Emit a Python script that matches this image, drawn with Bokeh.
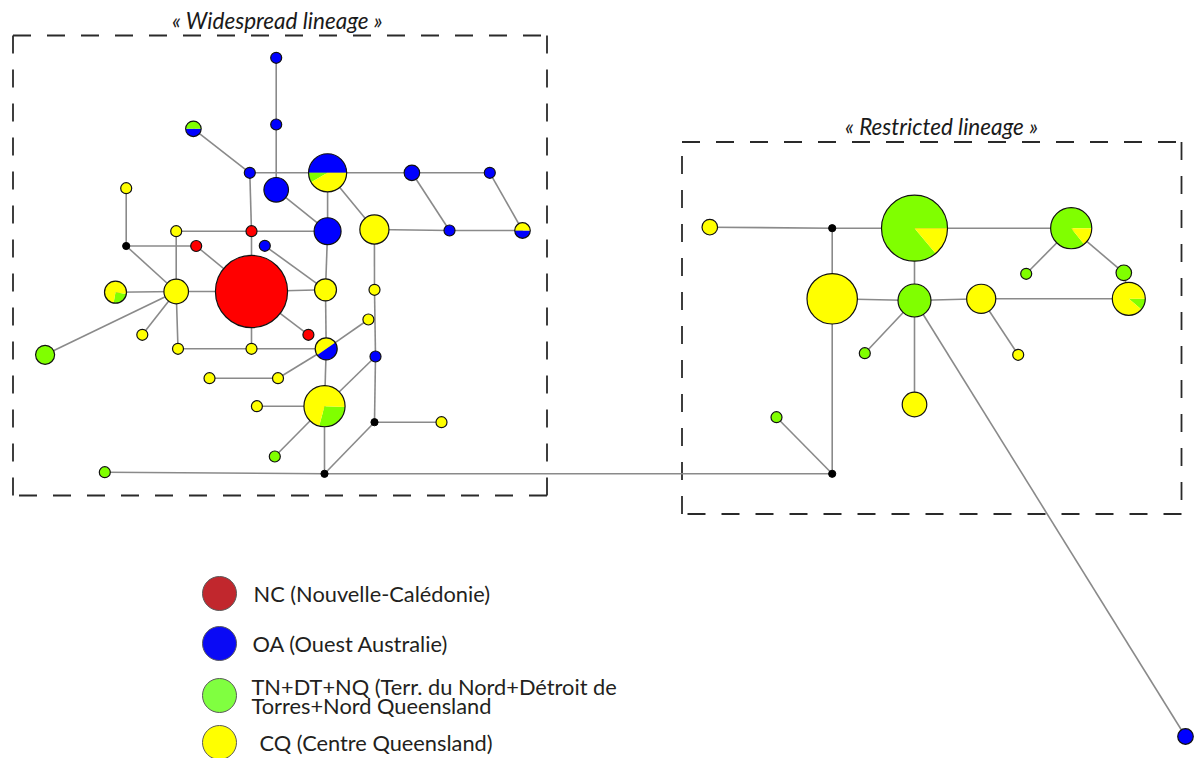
import numpy as np
from bokeh.plotting import figure
from bokeh.models import Range1d
from bokeh.core.properties import value
from bokeh.embed import file_html
from bokeh.resources import INLINE

W, H = 1195, 758

# ---------------------------------------------------------------- data
# Sampling regions (pie segments are drawn in this order)
region_codes = ["OA", "TN", "CQ", "NC"]
region_fill = {"NC": "#ff0000", "OA": "#0000ff", "TN": "#80ff00", "CQ": "#ffff00"}

# Haplotypes: layout position (x to the right, y downwards) and number of
# sequences per region.  Nodes with no sequence are median vectors.
hap_id = ["A", "B", "C", "D", "E", "F", "G", "H", "I", "J", "K", "L", "M",
          "N", "O", "P", "Q", "R", "S", "T", "U", "V", "W", "X", "Y", "Z",
          "AA", "AB", "AC", "AD", "AE", "AF", "AG", "AH", "AI", "AJ", "AK",
          "AL", "AM", "AN",
          "RA", "RB", "RC", "RD", "RE", "RF", "RG", "RH", "RI", "RJ", "RK",
          "RL", "RM", "RN", "RO", "RP"]
hap_x = [275.7, 275.7, 192.9, 249.3, 275.7, 327.1, 411.4, 489.3, 125.7, 175.7,
         251.0, 327.1, 373.9, 449.0, 522.0, 125.7, 195.7, 264.3, 251.0, 175.7,
         115.0, 325.0, 374.0, 367.9, 307.9, 141.8, 44.6, 177.5, 251.0, 325.7,
         375.0, 209.0, 277.5, 324.0, 256.4, 374.0, 441.0, 274.3, 104.3, 324.0,
         709.3, 831.7, 914.0, 1070.7, 1025.7, 1123.3, 831.7, 914.0, 980.7,
         1128.3, 864.3, 1017.7, 914.0, 776.0, 831.7, 1185.0]
hap_y = [57.3, 124.0, 128.3, 172.3, 189.3, 172.3, 172.3, 172.3, 187.7, 230.7,
         230.7, 230.7, 229.0, 230.0, 230.0, 245.5, 245.5, 245.3, 291.0, 291.0,
         291.7, 289.3, 289.3, 319.0, 334.3, 334.3, 354.3, 348.3, 348.3, 348.3,
         356.0, 377.7, 377.7, 405.7, 405.7, 421.7, 421.7, 456.0, 471.7, 473.3,
         226.7, 227.7, 227.7, 227.7, 273.3, 272.3, 298.3, 300.0, 298.3, 298.3,
         352.7, 354.3, 404.0, 416.7, 473.3, 736.0]
n_NC = [0, 0, 0, 0, 0, 0, 0, 0, 0, 0, 1, 0, 0, 0, 0, 0, 1, 0, 43, 0,
        0, 0, 0, 0, 1, 0, 0, 0, 0, 0, 0, 0, 0, 0, 0, 0, 0, 0, 0, 0,
        0, 0, 0, 0, 0, 0, 0, 0, 0, 0, 0, 0, 0, 0, 0, 0]
n_OA = [1, 1, 1, 1, 5, 6, 2, 1, 0, 0, 0, 6, 0, 1, 1, 0, 0, 1, 0, 0,
        0, 0, 0, 0, 0, 0, 0, 0, 0, 2, 1, 0, 0, 0, 0, 0, 0, 0, 0, 0,
        0, 0, 0, 0, 0, 0, 0, 0, 0, 0, 0, 0, 0, 0, 0, 2]
n_TN = [0, 0, 1, 0, 0, 1, 0, 0, 0, 0, 0, 0, 0, 0, 0, 0, 0, 0, 0, 0,
        1, 0, 0, 0, 0, 0, 3, 0, 0, 0, 0, 0, 0, 4, 0, 0, 0, 1, 1, 0,
        0, 0, 31, 12, 1, 2, 0, 9, 0, 1, 1, 0, 0, 1, 0, 0]
n_CQ = [0, 0, 0, 0, 0, 5, 0, 0, 1, 1, 0, 0, 7, 0, 1, 0, 0, 0, 0, 5,
        3, 4, 1, 1, 0, 1, 0, 1, 1, 2, 0, 1, 1, 10, 1, 0, 1, 0, 0, 0,
        2, 0, 5, 2, 0, 0, 21, 0, 7, 8, 0, 1, 5, 0, 0, 0]
# angle (degrees, anticlockwise from 3 o'clock) where each pie starts
pie_start = [0, 0, 180, 0, 0, 0, 0, 0, 0, 0, 0, 0, 0, 0, 180, 0, 0, 0, 0, 0,
             260, 0, 0, 0, 0, 0, 0, 0, 0, 215, 0, 0, 0, 255, 0, 0, 0, 0, 0, 0,
             0, 0, 0, 0, 0, 0, 0, 0, 0, 320, 0, 0, 0, 0, 0, 0]

# mutational links between haplotypes
links = [("A", "B"), ("B", "E"), ("C", "D"), ("D", "F"), ("D", "K"), ("E", "L"),
         ("F", "L"), ("F", "G"), ("G", "H"), ("F", "M"), ("G", "N"), ("H", "O"),
         ("M", "N"), ("N", "O"), ("J", "K"), ("K", "L"), ("I", "P"), ("P", "Q"),
         ("P", "T"), ("J", "T"), ("K", "S"), ("Q", "S"), ("R", "V"), ("L", "V"),
         ("M", "W"), ("W", "AE"), ("S", "T"), ("S", "V"), ("U", "T"), ("T", "AA"),
         ("T", "Z"), ("T", "AB"), ("S", "AC"), ("S", "Y"), ("AB", "AC"),
         ("AC", "AD"), ("V", "AD"), ("AD", "AG"), ("AF", "AG"), ("AD", "AH"),
         ("AH", "AE"), ("AH", "AI"), ("AH", "AL"), ("AH", "AN"), ("AE", "AJ"),
         ("AJ", "AK"), ("AJ", "AN"), ("AM", "AN"), ("AN", "RO"), ("X", "AD"),
         ("RA", "RB"), ("RB", "RC"), ("RC", "RD"), ("RB", "RG"), ("RC", "RH"),
         ("RD", "RE"), ("RD", "RF"), ("RF", "RJ"), ("RG", "RH"), ("RH", "RI"),
         ("RI", "RJ"), ("RH", "RK"), ("RH", "RM"), ("RH", "RP"), ("RI", "RL"),
         ("RG", "RO"), ("RN", "RO")]

lineage_titles = ["« Widespread lineage »", "« Restricted lineage »"]

legend_labels = ["NC (Nouvelle-Calédonie)", "OA (Ouest Australie)",
                 "TN+DT+NQ (Terr. du Nord+Détroit de",
                 "Torres+Nord Queensland", "CQ (Centre Queensland)"]
legend_fill = ["#c1272d", "#0a0af5", "#80ff40", "#ffff00"]

# ---------------------------------------------------------------- figure
p = figure(width=W, height=H, output_backend="svg", toolbar_location=None,
           x_range=Range1d(0, W), y_range=Range1d(0, H), min_border=0)
p.axis.visible = False
p.grid.visible = False
p.outline_line_color = None
p.background_fill_color = "white"
p.border_fill_color = "white"


def fy(v):
    return H - np.asarray(v, dtype=float)


UNIT = 5.5      # radius of a single-sequence haplotype
MEDIAN_R = 3.6  # radius of a median vector

pos = {h: (x, y) for h, x, y in zip(hap_id, hap_x, hap_y)}
counts = {"NC": n_NC, "OA": n_OA, "TN": n_TN, "CQ": n_CQ}
total = np.array(n_NC) + np.array(n_OA) + np.array(n_TN) + np.array(n_CQ)
radius = np.where(total > 0, UNIT * np.sqrt(np.maximum(total, 1)), MEDIAN_R)

# dashed frames around the two lineages
frames = [(12.5, 35.0, 546.5, 495.0), (681.5, 141.5, 1181.0, 513.5)]
for x0, y0, x1, y1 in frames:
    sides = [([x0, x1], [y0, y0]), ([x1, x1], [y0, y1]),
             ([x1, x0], [y1, y1]), ([x0, x0], [y1, y0])]
    for xs, ys in sides:
        p.line(xs, fy(ys), line_color="#2a2a2a", line_width=1.8,
               line_dash="18 16")

# links
p.segment(x0=[pos[a][0] for a, b in links], y0=fy([pos[a][1] for a, b in links]),
          x1=[pos[b][0] for a, b in links], y1=fy([pos[b][1] for a, b in links]),
          line_color="#8a8a8a", line_width=1.6)

# haplotype pies
full_x, full_y, full_r, full_c = [], [], [], []
wx, wy, wr, ws, we, wc = [], [], [], [], [], []
for i, h in enumerate(hap_id):
    if total[i] == 0:
        continue
    ang = pie_start[i]
    for reg in region_codes:
        c = counts[reg][i]
        if c == 0:
            continue
        if c == total[i]:
            full_x.append(hap_x[i]); full_y.append(hap_y[i])
            full_r.append(radius[i]); full_c.append(region_fill[reg])
        else:
            span = 360.0 * c / total[i]
            wx.append(hap_x[i]); wy.append(hap_y[i]); wr.append(radius[i])
            ws.append(ang); we.append(ang + span); wc.append(region_fill[reg])
            ang += span

p.circle(x=full_x, y=fy(full_y), radius=full_r, fill_color=full_c,
         line_color=None)
p.wedge(x=wx, y=fy(wy), radius=wr, start_angle=ws, end_angle=we,
        start_angle_units="deg", end_angle_units="deg", fill_color=wc,
        line_color=None)

hap_mask = total > 0
p.circle(x=np.array(hap_x)[hap_mask], y=fy(np.array(hap_y)[hap_mask]),
         radius=radius[hap_mask], fill_color=None, line_color="#111111",
         line_width=1.2)

# median vectors
med = ~hap_mask
p.circle(x=np.array(hap_x)[med], y=fy(np.array(hap_y)[med]),
         radius=MEDIAN_R, fill_color="black", line_color="black")

# lineage titles
p.text(x=[277, 941], y=fy([20, 126]), text=lineage_titles,
       text_font=value("Lato"), text_font_size=value("22.5px"),
       text_font_style="italic", text_color="#1a1a1a",
       text_align="center", text_baseline="middle")

# legend
p.circle(x=[219, 219, 219, 219], y=fy([593, 643, 695, 742]), radius=17,
         fill_color=legend_fill, line_color="#5a5a5a", line_width=1)
p.text(x=[253, 252, 251, 251, 259], y=fy([593, 643, 686, 705, 742]),
       text=legend_labels, text_font=value("Lato"),
       text_font_size=value("21.8px"), text_color="#231f20",
       text_align="left", text_baseline="middle")

open("out.html", "w").write(file_html(p, INLINE))
